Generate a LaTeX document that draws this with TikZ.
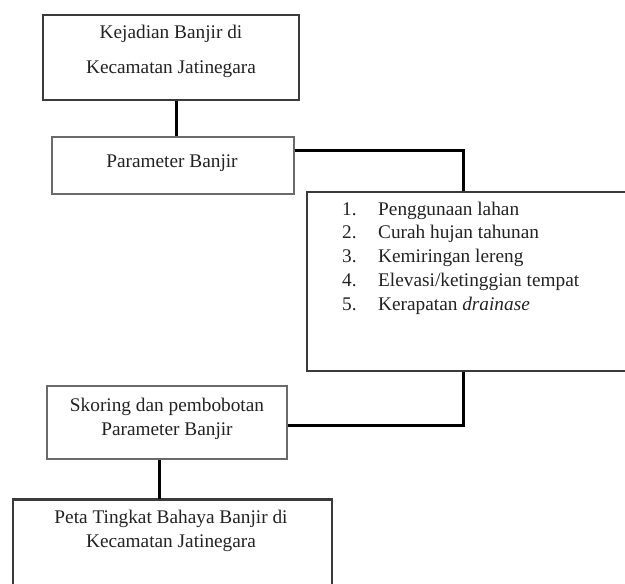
\documentclass[tikz,border=0pt]{standalone}
\usepackage{fontspec}
\setmainfont{Liberation Serif}
\definecolor{ink}{HTML}{222222}
\definecolor{edge}{HTML}{3A3A3A}
\definecolor{edgel}{HTML}{6A6A6A}
\tikzset{
  boxd/.style={draw=edge, line width=1.6pt, inner sep=0pt, rectangle},
  boxl/.style={draw=edgel, line width=1.4pt, inner sep=0pt, rectangle},
  conn/.style={draw=black, line width=3pt},
  lbl/.style={anchor=base, inner sep=0pt, text=ink, font=\fontsize{19.3}{23.7}\selectfont},
  lbll/.style={anchor=base west, inner sep=0pt, text=ink, font=\fontsize{19.3}{23.7}\selectfont}
}
\begin{document}
\begin{tikzpicture}[x=1pt,y=-1pt]
\useasboundingbox (0,0) rectangle (625,584);
\clip (0,0) rectangle (625,584);
% boxes
\node[boxd, minimum width=256pt, minimum height=85pt] (b1) at (171,57.5) {};
\node[boxl, minimum width=242pt, minimum height=57pt] (b2) at (173,165.5) {};
\node[boxd, minimum width=333pt, minimum height=179pt] (b3) at (473.5,281.5) {};
\node[boxl, minimum width=240pt, minimum height=73pt] (b4) at (167,422.5) {};
\node[boxd, minimum width=319pt, minimum height=122pt] (b5) at (172.5,561) {};
\draw[line width=2.6pt, draw=edge] (b5.north west) -- (b5.north east);
% texts
\node[lbl] (t1a) at (171,38.5) {Kejadian Banjir di};
\node[lbl] (t1b) at (171,73) {Kecamatan Jatinegara};
\node[lbl] (t2) at (172,167) {Parameter Banjir};
\node[lbll] (n1) at (342,215) {1.};
\node[lbll] (n2) at (342,238.75) {2.};
\node[lbll] (n3) at (342,262.5) {3.};
\node[lbll] (n4) at (342,286.25) {4.};
\node[lbll] (n5) at (342,310) {5.};
\node[lbll] (l1) at (378,215) {Penggunaan lahan};
\node[lbll] (l2) at (378,238.75) {Curah hujan tahunan};
\node[lbll] (l3) at (378,262.5) {Kemiringan lereng};
\node[lbll] (l4) at (378,286.25) {Elevasi/ketinggian tempat};
\node[lbll] (l5) at (378,310) {Kerapatan \textit{drainase}};
\node[lbl] (t4a) at (167,411) {Skoring dan pembobotan};
\node[lbl] (t4b) at (167,435) {Parameter Banjir};
\node[lbl] (t5a) at (171,523) {Peta Tingkat Bahaya Banjir di};
\node[lbl] (t5b) at (171,547) {Kecamatan Jatinegara};
% connectors
\draw[conn] ([xshift=5pt]b1.south) -- ([xshift=5pt]b1.south |- b2.north);
\draw[conn] ([yshift=15.5pt]b2.east) -| ([xshift=-10.5pt]b3.north);
\draw[conn] ([xshift=-10.5pt]b3.south) |- ([yshift=-2.5pt]b4.east);
\draw[conn] ([xshift=-8pt]b4.south) -- ([xshift=-8pt]b4.south |- b5.north);
\end{tikzpicture}
\end{document}
